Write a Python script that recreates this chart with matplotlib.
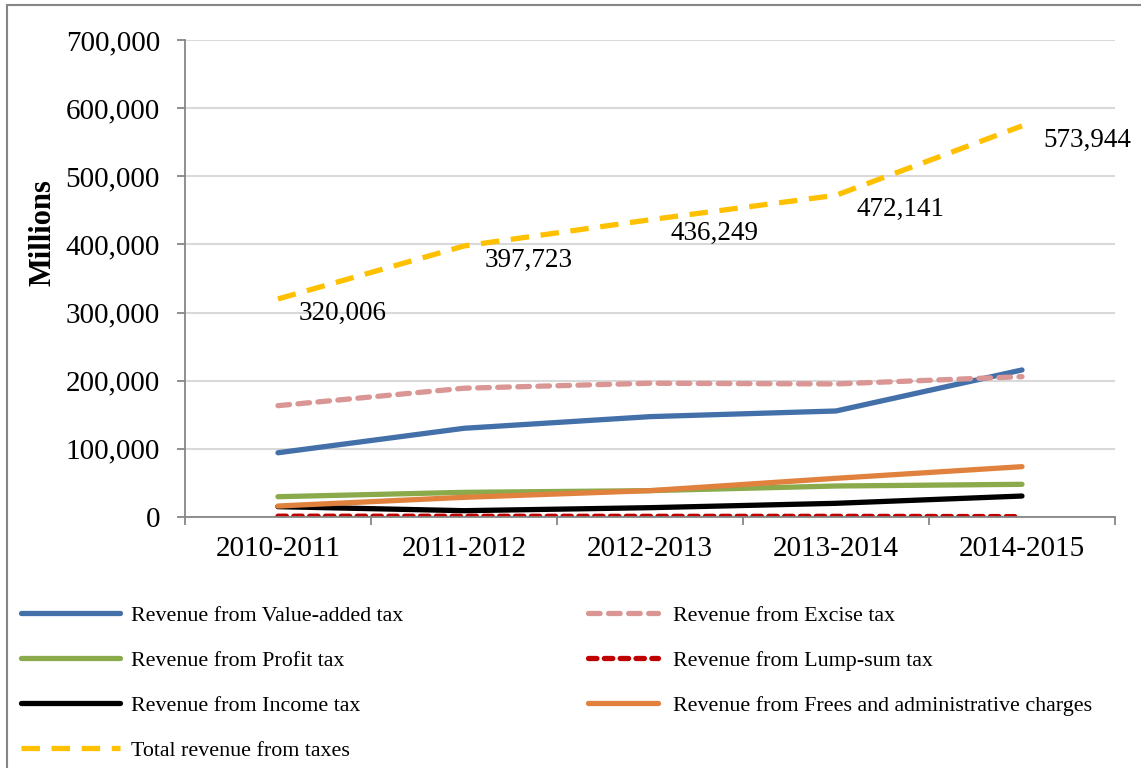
import matplotlib.pyplot as plt
from matplotlib.patches import Rectangle

plt.rcParams['font.family'] = ['Liberation Serif', 'DejaVu Serif']

years = ["2010-2011", "2011-2012", "2012-2013", "2013-2014", "2014-2015"]

vat = [94300, 130200, 147300, 155600, 215800]
excise = [163400, 189000, 196300, 195300, 206000]
profit = [29800, 36200, 38700, 45500, 48000]
lump_sum = [1200, 1100, 1000, 1000, 600]
income = [15200, 9300, 13700, 20100, 30800]
fees = [16100, 28900, 38700, 56800, 73900]
total = [320006, 397723, 436249, 472141, 573944]
total_labels = ["320,006", "397,723", "436,249", "472,141", "573,944"]

fig = plt.figure(figsize=(11.41, 7.68), dpi=100)
ax = fig.add_axes([0.1621, 0.3268, 0.8151, 0.6211])

x = range(len(years))
lw = 3.8

l_vat, = ax.plot(x, vat, color='#4470AA', lw=lw, solid_capstyle='round',
                 label='Revenue from Value-added tax')
l_exc, = ax.plot(x, excise, color='#D99694', lw=lw, dashes=(2.2, 1.6),
                 dash_capstyle='round', label='Revenue from Excise tax')
l_pro, = ax.plot(x, profit, color='#8AAA4B', lw=lw, solid_capstyle='round',
                 label='Revenue from Profit tax')
l_lump, = ax.plot(x, lump_sum, color='#C00000', lw=lw, dashes=(1.6, 1.4),
                  dash_capstyle='round', label='Revenue from Lump-sum tax')
l_inc, = ax.plot(x, income, color='black', lw=lw, solid_capstyle='round',
                 label='Revenue from Income tax')
l_fee, = ax.plot(x, fees, color='#E0823D', lw=lw, solid_capstyle='round',
                 label='Revenue from Frees and administrative charges')
l_tot, = ax.plot(x, total, color='#FFC000', lw=lw, dashes=(3.5, 2.2),
                 label='Total revenue from taxes')

for i, (v, t) in enumerate(zip(total, total_labels)):
    ax.annotate(t, (i, v), xytext=(21, -14), textcoords='offset pixels',
                ha='left', va='center', fontsize=19.5)

ax.set_xlim(-0.5, 4.5)
ax.set_ylim(0, 700000)
ax.set_yticks(range(0, 700001, 100000))
ax.set_yticklabels(['0', '100,000', '200,000', '300,000', '400,000',
                    '500,000', '600,000', '700,000'], fontsize=21)
ax.set_xticks(list(x))
ax.set_xticklabels(years, fontsize=21)
ax.set_xticks([i - 0.5 for i in range(6)], minor=True)
ax.tick_params(axis='x', which='major', length=0, pad=14)
ax.tick_params(axis='x', which='minor', length=6, width=1.3, color='#868686',
               direction='out')
ax.tick_params(axis='y', length=6, width=1.3, color='#868686', pad=12)

ax.grid(axis='y', color='#D9D9D9', lw=1.5)
ax.set_axisbelow(True)
for s in ['top', 'right']:
    ax.spines[s].set_visible(False)
for s in ['left', 'bottom']:
    ax.spines[s].set_color('#868686')
    ax.spines[s].set_linewidth(1.3)

ax.set_ylabel('Millions', fontsize=22, fontweight='bold')
ax.yaxis.set_label_coords(-0.137, 0.597)

# legend: two columns, Excel style
col1 = [l_vat, l_pro, l_inc, l_tot]
col2 = [l_exc, l_lump, l_fee]
leg_kw = dict(loc='upper left', frameon=False, fontsize=15.8,
              labelspacing=1.12, borderaxespad=0, borderpad=0)
leg1 = fig.legend(handles=col1, labels=[h.get_label() for h in col1],
                  bbox_to_anchor=(0.018, 0.2116), handlelength=4.55,
                  handletextpad=0.5, **leg_kw)
leg2 = fig.legend(handles=col2, labels=[h.get_label() for h in col2],
                  bbox_to_anchor=(0.515, 0.2116), handlelength=3.2,
                  handletextpad=0.7, **leg_kw)

fig.patches.append(Rectangle((7 / 1141, -0.1), 1.2, 1.1 - 5 / 768,
                             transform=fig.transFigure, fill=False,
                             edgecolor='#868686', lw=1.5))

fig.savefig('out.png', dpi=100)
